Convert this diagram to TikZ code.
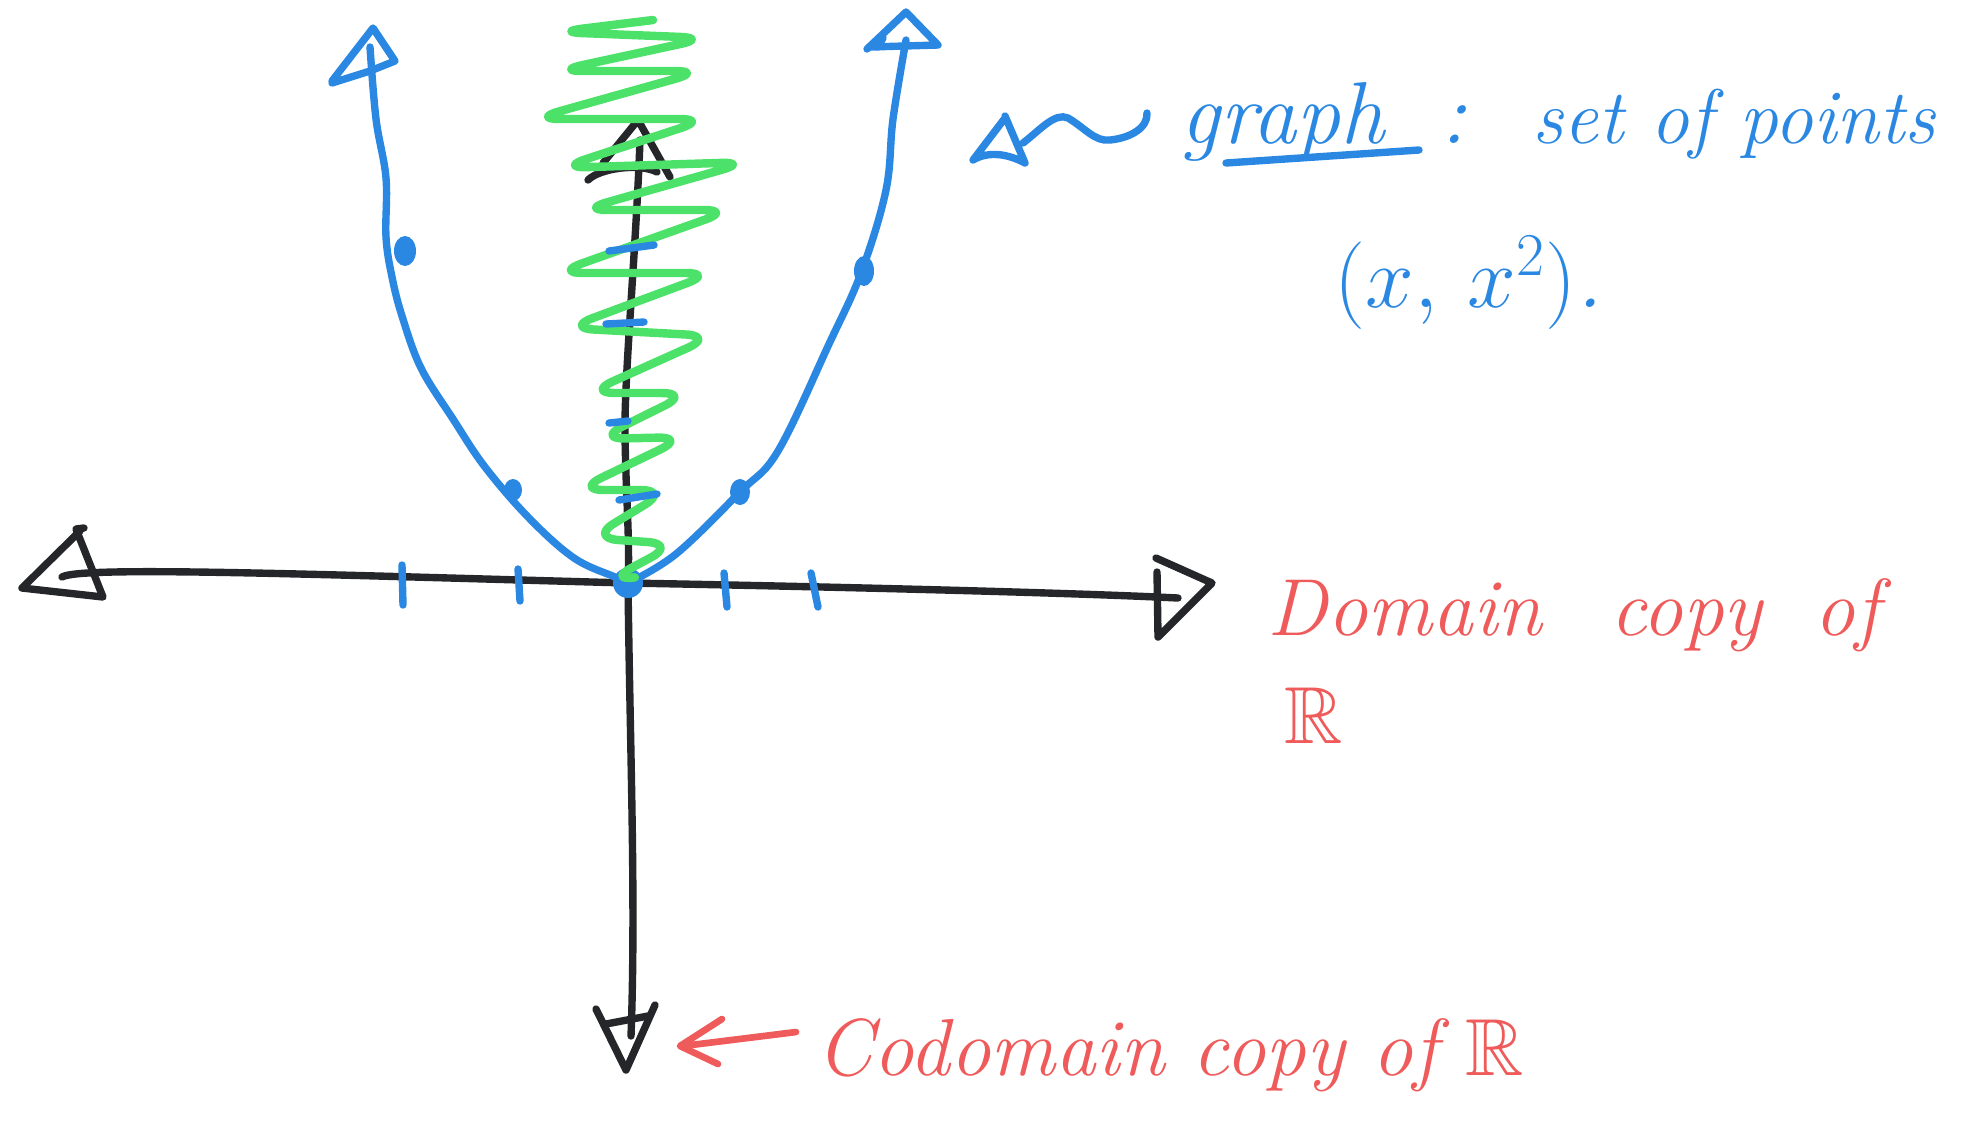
\documentclass[tikz,border=0pt]{standalone}
\usepackage{fontspec}
\usepackage{amssymb}
\definecolor{pblue}{HTML}{2B88E2}
\definecolor{pgreen}{HTML}{4CE26A}
\definecolor{pred}{HTML}{EF5A5A}
\definecolor{inkblack}{HTML}{24262A}
\tikzset{
  ink/.style={line width=2.1pt, line cap=round, line join=round},
  axispen/.style={ink, draw=inkblack},
  bluepen/.style={ink, draw=pblue},
  greenpen/.style={ink, draw=pgreen, line width=2.4pt, rounded corners=8pt},
  redpen/.style={ink, draw=pred, line width=1.9pt},
  bluedot/.style={fill=pblue, draw=none},
  redtext/.style={text=pred, font=\fontsize{23}{28}\selectfont\itshape, inner sep=0pt, anchor=base west},
  bluetext/.style={text=pblue, font=\fontsize{25}{30}\selectfont\itshape, inner sep=0pt, anchor=base west},
}
\begin{document}
\begin{tikzpicture}[x=0.01cm,y=-0.01cm]
\useasboundingbox (0,0) rectangle (1979,1126);

% ---------- black axes ----------
\coordinate (xl) at (62,577);
\coordinate (O) at (628,583);
\coordinate (xr) at (1178,598);
\coordinate (yt) at (640,140);
\coordinate (yb) at (631,1036);

\draw[axispen] (xl) .. controls (80,566) and (300,574) .. (O)
               .. controls (900,588) and (1100,594) .. (xr);
% left arrowhead
\draw[axispen] (80,531) -- (22,588) -- (103,597) -- (76,529) -- (84,528);
% right arrowhead
\draw[axispen] (1157,572) -- (1158,637) -- (1212,583) -- (1156,558);

\draw[axispen] (yt) .. controls (636,250) and (624,380) .. (625,435)
               .. controls (626,500) and (630,540) .. (O)
               .. controls (630,750) and (636,900) .. (yb);
% top arrowhead
\draw[axispen] (603,163) -- (638,120) -- (670,177);
\draw[axispen] (588,180) .. controls (600,168) and (640,163) .. (657,172);
% bottom arrowhead
\draw[axispen] (596,1009) -- (626,1070) -- (655,1005);
\draw[axispen] (606,1024) -- (648,1016);

% ---------- blue parabola ----------
\draw[bluepen] plot[smooth, tension=0.6] coordinates {
  (370,47) (376,119) (386,178) (386,237) (392,277) (402,316) (421,368)
  (453,419) (485,467) (529,518) (574,558) (615,577) (628,583)};
\draw[bluepen] plot[smooth, tension=0.6] coordinates {
  (628,583) (676,554) (740,492) (778,451) (829,344) (861,273) (886,190)
  (893,119) (906,40)};
% arrowheads of parabola
\draw[bluepen] (332,81) -- (373,28) -- (395,61) -- (370,71) -- (332,83);
\draw[bluepen] (867,49) -- (906,12) -- (938,45) -- (870,47);
\draw[bluepen] (883,38) -- (878,47);

% dots
\fill[bluedot] (405,251) ellipse [x radius=11, y radius=15];
\fill[bluedot] (513,490) ellipse [x radius=9, y radius=11];
\fill[bluedot] (864,271) ellipse [x radius=10, y radius=15];
\fill[bluedot] (740,492) ellipse [x radius=10, y radius=13];
\fill[bluedot] (O) circle [radius=15];

% ticks on x-axis
\draw[bluepen] (402,565) -- (403,605);
\draw[bluepen] (518,569) -- (520,601);
\draw[bluepen] (724,573) -- (727,607);
\draw[bluepen] (811,573) -- (818,607);

% ---------- green zigzag ----------
\draw[greenpen] (653,20) -- (555,32) -- (708,38) -- (555,71) -- (703,71)
  -- (532,119) -- (708,119) -- (559,168) -- (749,162) -- (580,210)
  -- (732,210) -- (555,273) -- (714,273) -- (566,328) -- (714,336)
  -- (587,393) -- (690,393) -- (597,439) -- (686,437) -- (576,490)
  -- (669,490) -- (590,538) -- (676,544) -- (607,581) -- (630,578);

% ticks on y-axis
\draw[bluepen] (609,251) -- (654,245);
\draw[bluepen] (606,324) -- (644,322);
\draw[bluepen] (609,423) -- (628,421);
\draw[bluepen] (619,500) -- (657,494);

% ---------- blue annotation ----------
\draw[bluepen] (1005,118) -- (973,160) .. controls (990,150) and (1010,155) .. (1025,163) -- (1005,116);
\draw[bluepen] (1023,143) .. controls (1040,130) and (1055,112) .. (1068,118)
  .. controls (1085,128) and (1095,142) .. (1110,140)
  .. controls (1130,138) and (1148,128) .. (1147,113);

\node[bluetext] (graph) at (1180,143) {graph};
\coordinate (ula) at (1226,163);
\coordinate (ulb) at (1419,150);
\draw[bluepen] (ula) -- (ulb);
\node[bluetext] (colon) at (1440,143) {:};
\node[bluetext, font=\fontsize{22}{26}\selectfont\itshape] (setof) at (1532,143) {set of points};
\node[bluetext] (pair) at (1334,307) {$(x,\,x^2)$.};

% ---------- red labels ----------
\node[redtext] (domain) at (1267,635) {Domain\hspace{0.5em} copy\hspace{0.3em} of};
\node[redtext] (domR) at (1284,743) {$\mathbb{R}$};

\coordinate (ca) at (796,1032);
\coordinate (cb) at (683,1046);
\draw[redpen] (ca) -- (cb);
\draw[redpen] (722,1019) -- (680,1046) -- (718,1064);
\node[redtext] (codomain) at (816,1075) {Codomain copy of $\mathbb{R}$};
\end{tikzpicture}
\end{document}
